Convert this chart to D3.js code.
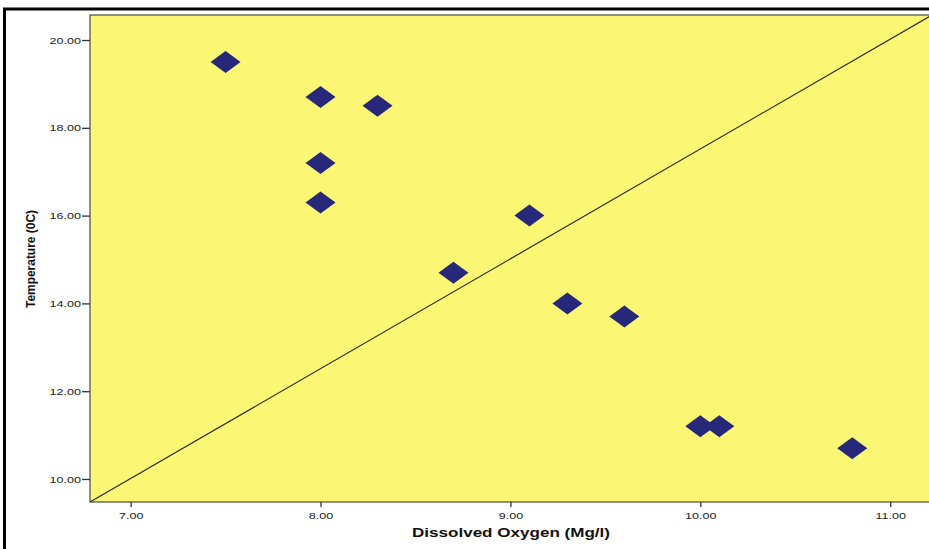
<!DOCTYPE html>
<html>
<head>
<meta charset="utf-8">
<script src="https://cdn.jsdelivr.net/npm/d3@7"></script>
<style>
  html, body { margin: 0; padding: 0; background: #fff; }
  svg { display: block; }
  text { font-family: "Liberation Sans", Arial, sans-serif; }
</style>
</head>
<body>
<svg id="chart"></svg>
<script>
// data
var oxygen      = [7.5, 8.0, 8.3, 8.0, 8.0, 9.1, 8.7, 9.3, 9.6, 10.0, 10.1, 10.8];
var temperature = [19.5, 18.7, 18.5, 17.2, 16.3, 16.0, 14.7, 14.0, 13.7, 11.2, 11.2, 10.7];
var xTicks = [7, 8, 9, 10, 11];
var yTicks = [10, 12, 14, 16, 18, 20];
var xDomain = [6.786, 11.22];
var yDomain = [9.476, 20.57];
var refLine = [[6.786, 9.476], [11.22, 20.57]];

var width = 929,
    height = 549,
    plotLeft = 90, plotTop = 15, plotRight = 932, plotBottom = 502;

var svg = d3.select("#chart")
  .attr("width", width)
  .attr("height", height);

// outer frame
svg.append("rect")
  .attr("x", 4.5).attr("y", 9)
  .attr("width", 1000).attr("height", 700)
  .attr("fill", "none")
  .attr("stroke", "#000")
  .attr("stroke-width", 3);

var x = d3.scaleLinear().domain(xDomain).range([plotLeft, plotRight]);
var y = d3.scaleLinear().domain(yDomain).range([plotBottom, plotTop]);

svg.append("rect")
  .attr("x", plotLeft).attr("y", plotTop)
  .attr("width", plotRight - plotLeft).attr("height", plotBottom - plotTop)
  .attr("fill", "#fbf775")
  .attr("stroke", "#4a4a3a")
  .attr("stroke-width", 1.2);

var fmt = d3.format(".2f");

var xAxis = svg.append("g")
  .attr("transform", "translate(0," + plotBottom + ")")
  .call(d3.axisBottom(x).tickValues(xTicks).tickFormat(fmt).tickSize(5).tickSizeOuter(0));

var yAxis = svg.append("g")
  .attr("transform", "translate(" + plotLeft + ",0)")
  .call(d3.axisLeft(y).tickValues(yTicks).tickFormat(fmt).tickSize(8).tickSizeOuter(0));

[xAxis, yAxis].forEach(function(ax) {
  ax.select(".domain").remove();
  ax.selectAll(".tick line").attr("stroke", "#333").attr("stroke-width", 1.3);
  ax.selectAll(".tick text")
    .attr("fill", "#222")
    .style("font-size", "9px");
});

// stretched tick labels, as in the picture
xAxis.selectAll(".tick text")
  .attr("y", 0).attr("dy", 0)
  .attr("transform", "translate(0,17) scale(1.4,1)");
yAxis.selectAll(".tick text")
  .attr("x", 0).attr("dy", "0.35em")
  .attr("transform", "translate(-9,0) scale(1.4,1)");

// reference line
svg.append("line")
  .attr("x1", x(refLine[0][0])).attr("y1", y(refLine[0][1]))
  .attr("x2", x(refLine[1][0])).attr("y2", y(refLine[1][1]))
  .attr("stroke", "#2e2e22")
  .attr("stroke-width", 1.2);

// diamond markers
var hw = 15, hh = 11;
svg.append("g").selectAll("path")
  .data(d3.zip(oxygen, temperature))
  .enter()
  .append("path")
  .attr("d", function(d) {
    var cx = x(d[0]), cy = y(d[1]);
    return "M" + (cx - hw) + "," + cy + "L" + cx + "," + (cy - hh) +
           "L" + (cx + hw) + "," + cy + "L" + cx + "," + (cy + hh) + "Z";
  })
  .attr("fill", "#27287a");

// axis titles
svg.append("text")
  .attr("x", 511).attr("y", 537)
  .attr("text-anchor", "middle")
  .attr("textLength", 198)
  .attr("lengthAdjust", "spacingAndGlyphs")
  .style("font-size", "13px")
  .style("font-weight", "bold")
  .attr("fill", "#111")
  .text("Dissolved Oxygen (Mg/l)");

svg.append("text")
  .attr("transform", "translate(35,259) rotate(-90)")
  .attr("text-anchor", "middle")
  .attr("textLength", 98)
  .attr("lengthAdjust", "spacingAndGlyphs")
  .style("font-size", "12px")
  .style("font-weight", "bold")
  .attr("fill", "#111")
  .text("Temperature (0C)");
</script>
</body>
</html>
